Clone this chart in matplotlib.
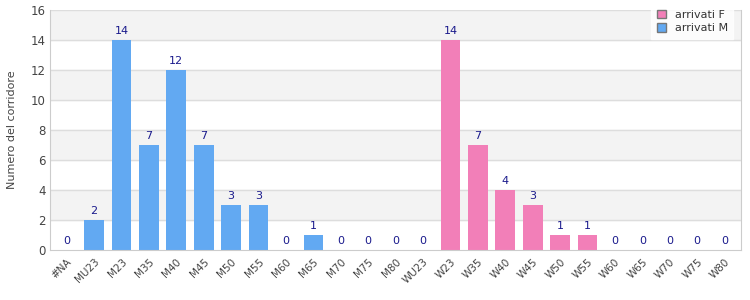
import numpy as np
from matplotlib import pyplot as plt

categories = ['#NA', 'MU23', 'M23', 'M35', 'M40', 'M45', 'M50', 'M55', 'M60', 'M65', 'M70', 'M75', 'M80',
              'WU23', 'W23', 'W35', 'W40', 'W45', 'W50', 'W55', 'W60', 'W65', 'W70', 'W75', 'W80']
arrivati_m = [0, 2, 14, 7, 12, 7, 3, 3, 0, 1, 0, 0, 0]
arrivati_f = [0, 14, 7, 4, 3, 1, 1, 0, 0, 0, 0, 0]

col_m = '#62a9f2'
col_f = '#f27fb8'

fig = plt.figure(figsize=(7.5, 3), dpi=100)
ax = fig.add_axes([0.067, 0.167, 0.921, 0.8])

x = np.arange(len(categories))
xm = x[:len(arrivati_m)]
xf = x[len(arrivati_m):]

# alternating bands
for y0 in range(2, 16, 4):
    ax.axhspan(y0, y0 + 2, color='#f3f3f3', zorder=0)
for y0 in range(2, 17, 2):
    ax.axhline(y0, color='#dddddd', lw=1, zorder=1)

bm = ax.bar(xm, arrivati_m, width=0.72, color=col_m, zorder=2, label='arrivati M')
bf = ax.bar(xf, arrivati_f, width=0.72, color=col_f, zorder=2, label='arrivati F')

for xi, v in list(zip(xm, arrivati_m)) + list(zip(xf, arrivati_f)):
    ax.text(xi, v + 0.25, str(v), ha='center', va='bottom', fontsize=8, color='#1a1a8c')

ax.set_xlim(-0.6, len(categories) - 0.4)
ax.set_ylim(0, 16)
ax.set_yticks(range(0, 17, 2))
ax.set_xticks(x)
ax.set_xticklabels(categories, rotation=45, ha='right', rotation_mode='anchor', fontsize=7.5, color='#444444')
ax.tick_params(axis='y', labelsize=8.5, labelcolor='#444444', length=0)
ax.tick_params(axis='x', length=0, pad=5)
ax.set_ylabel('Numero del corridore', fontsize=8, color='#444444')
ax.yaxis.set_label_coords(-0.048, 0.5)

for s in ax.spines.values():
    s.set_color('#cccccc')
ax.spines['top'].set_visible(False)

leg = fig.legend(handles=[bf, bm], loc='upper right', bbox_to_anchor=(0.985, 1.005), fontsize=8,
                 frameon=True, fancybox=False, handlelength=0.8, handleheight=0.8, borderpad=0.5,
                 labelspacing=0.3, handletextpad=0.8)
leg.get_frame().set_facecolor('white')
leg.get_frame().set_edgecolor('white')
for h in leg.legend_handles:
    h.set_edgecolor('#777777')
for t in leg.get_texts():
    t.set_color('#333333')

fig.savefig('out.png')
